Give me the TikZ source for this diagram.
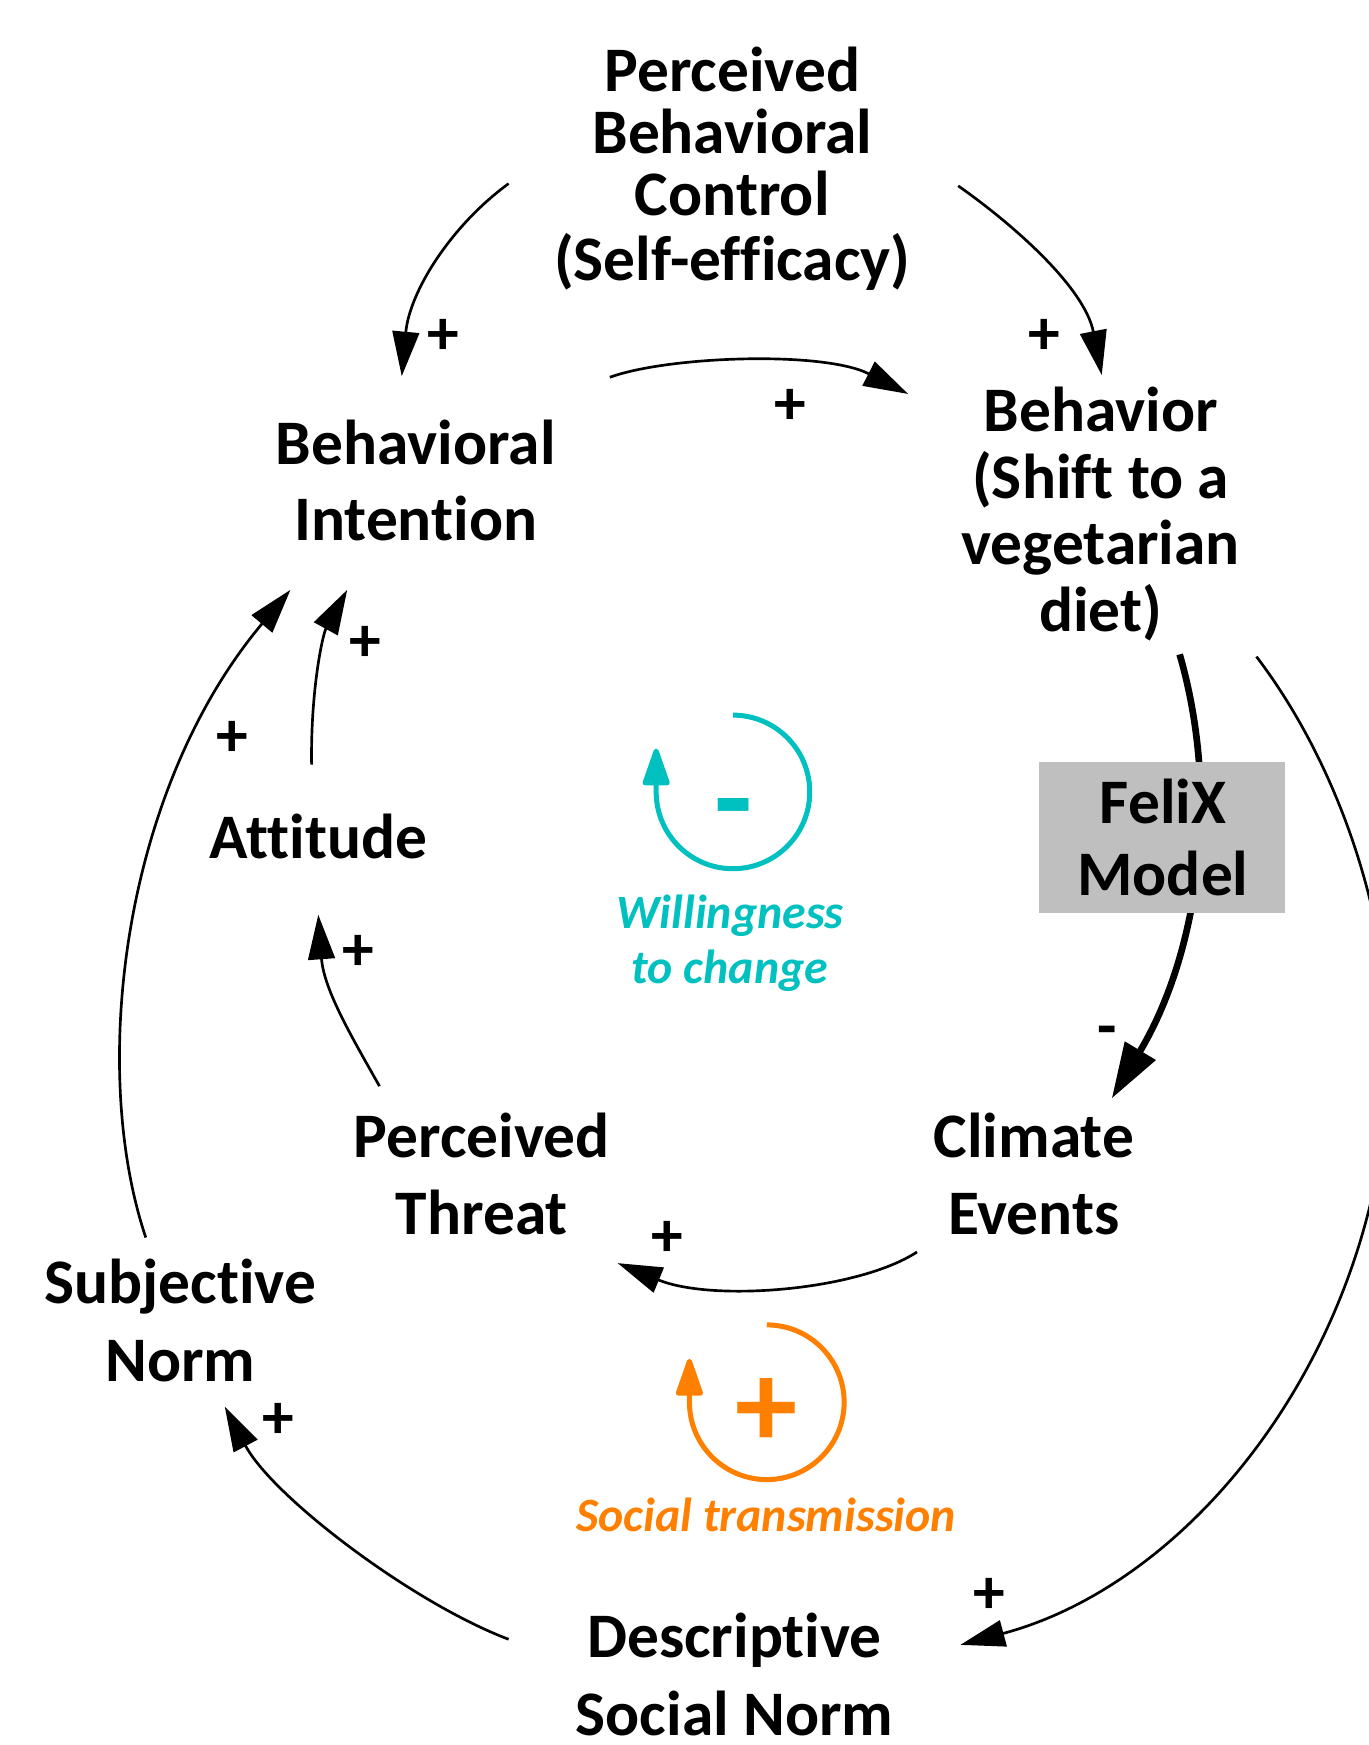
\documentclass[tikz,border=0pt]{standalone}
\usepackage{fontspec}
\setmainfont[Ligatures={NoCommon}]{Carlito}
\usetikzlibrary{arrows.meta}
\definecolor{loopcyan}{RGB}{0,192,192}
\definecolor{looporange}{RGB}{255,128,0}
\definecolor{boxgray}{RGB}{191,191,191}
\newcommand\mylines[1]{\begin{tabular}[t]{@{}c@{}}#1\end{tabular}}
\begin{document}
\begin{tikzpicture}[x=0.5pt,y=-0.5pt,
  lbl/.style={inner sep=0pt, anchor=base, font=\bfseries\fontsize{28.5}{#1}\selectfont},
  sign/.style={inner sep=0pt, font=\bfseries\fontsize{28.5}{34}\selectfont},
  bigsign/.style={inner sep=0pt, font=\bfseries\fontsize{56}{60}\selectfont},
  link/.style={line width=1.2pt, -{Triangle[length=20pt,width=12pt]}},
  thicklink/.style={line width=3pt, -{Triangle[length=25pt,width=15.5pt]}},
  loopline/.style={line width=2.25pt, -{Triangle[round,length=19pt,width=12.5pt]}},
  looptext/.style={inner sep=0pt, anchor=base, font=\bfseries\itshape\fontsize{21.5}{25}\selectfont},
  felixbox/.style={fill=boxgray, minimum width=110.5pt, minimum height=67.5pt, inner sep=0pt},
]
\useasboundingbox (0,0) rectangle (1230,1568);
\fill[white] (0,0) rectangle (1230,1568);

% ---- variables ----
\node[lbl=26.5] (pbc) at (658,82) {\mylines{Perceived\\Behavioral\\Control\\(Self-efficacy)}};
\node[lbl=34.5] (bi) at (373.5,417) {\mylines{Behavioral\\Intention}};
\node[lbl=29.5] (beh) at (989,388) {\mylines{Behavior\\(Shift to a\\vegetarian\\diet)}};
\node[lbl=34.5] (att) at (286,771.6) {Attitude};
\node[lbl=34.5] (pt) at (433,1040) {\mylines{Perceived\\Threat}};
\node[lbl=34.5] (ce) at (929,1040) {\mylines{Climate\\Events}};
\node[lbl=34.75] (sn) at (162,1171.5) {\mylines{Subjective\\Norm}};
\node[lbl=35] (dsn) at (660,1489.5) {\mylines{Descriptive\\Social Norm}};

% ---- connector end points ----
\coordinate (c1s) at (457,165);  \coordinate (c1e) at (361,338);
\coordinate (c2s) at (861,167);  \coordinate (c2e) at (990,337);
\coordinate (c3s) at (548,339);  \coordinate (c3e) at (816,354);
\coordinate (c4s) at (1060,588); \coordinate (c4e) at (999,987);
\coordinate (c5s) at (1129,590); \coordinate (c5e) at (863,1478);
\coordinate (c6s) at (824,1125); \coordinate (c6e) at (555,1135);
\coordinate (c7s) at (341,976);  \coordinate (c7e) at (286,822);
\coordinate (c8s) at (280,687);  \coordinate (c8e) at (312,530);
\coordinate (c9s) at (131,1112); \coordinate (c9e) at (261,530);
\coordinate (c10s) at (457,1473); \coordinate (c10e) at (202,1264);

% ---- connectors ----
\draw[link] (c1s) .. controls (405,203) and (368,262) .. (c1e);
\draw[link] (c2s) .. controls (915,205) and (975,260) .. (c2e);
\draw[link] (c3s) .. controls (600,320) and (740,315) .. (c3e);
\draw[thicklink] (c4s) .. controls (1098,720) and (1075,860) .. (c4e);
\draw[link] (c5s) .. controls (1205,690) and (1250,830) .. (1248,950)
                  .. controls (1245,1200) and (1080,1420) .. (c5e);
\draw[link] (c6s) .. controls (770,1160) and (640,1170) .. (c6e);
\draw[link] (c7s) .. controls (318,935) and (291,890) .. (c7e);
\draw[link] (c8s) .. controls (279,620) and (290,570) .. (c8e);
\draw[link] (c9s) .. controls (80,960) and (110,710) .. (c9e);
\draw[link] (c10s) .. controls (370,1440) and (245,1345) .. (c10e);

% ---- FeliX model box ----
\node[felixbox] (felix) at (1044.5,752.5) {};
\node[lbl=32.5] (felixtext) at (1045,739.8) {\mylines{FeliX\\Model}};

% ---- polarity signs ----
\node[sign] (p1) at (398,303) {+};
\node[sign] (p2) at (938,303) {+};
\node[sign] (p3) at (710,366) {+};
\node[sign] (p4) at (328,579) {+};
\node[sign] (p5) at (209,664) {+};
\node[sign] (p6) at (322,856) {+};
\node[sign] (m1) at (995,932) {-};
\node[sign] (p7) at (600,1113) {+};
\node[sign] (p8) at (250,1277) {+};
\node[sign] (p9) at (889,1434) {+};

% ---- loop: willingness to change ----
\coordinate (wc) at (658.6,711.6);
\draw[loopline, loopcyan] ([yshift=34.5pt]wc) arc[start angle=90, end angle=-180, radius=34.5pt] -- ++(0,-39);
\node[bigsign, text=loopcyan] (wsign) at (659.5,736) {-};
\node[looptext, text=loopcyan] (wtext) at (656,834) {\mylines{Willingness\\to change}};

% ---- loop: social transmission ----
\coordinate (sc) at (689,1260);
\draw[loopline, looporange] ([yshift=34.75pt]sc) arc[start angle=90, end angle=-180, radius=34.75pt] -- ++(0,-39);
\node[bigsign, text=looporange] (ssign) at (689,1270) {+};
\node[looptext, text=looporange] (stext) at (688.5,1376) {Social transmission};
\end{tikzpicture}
\end{document}
